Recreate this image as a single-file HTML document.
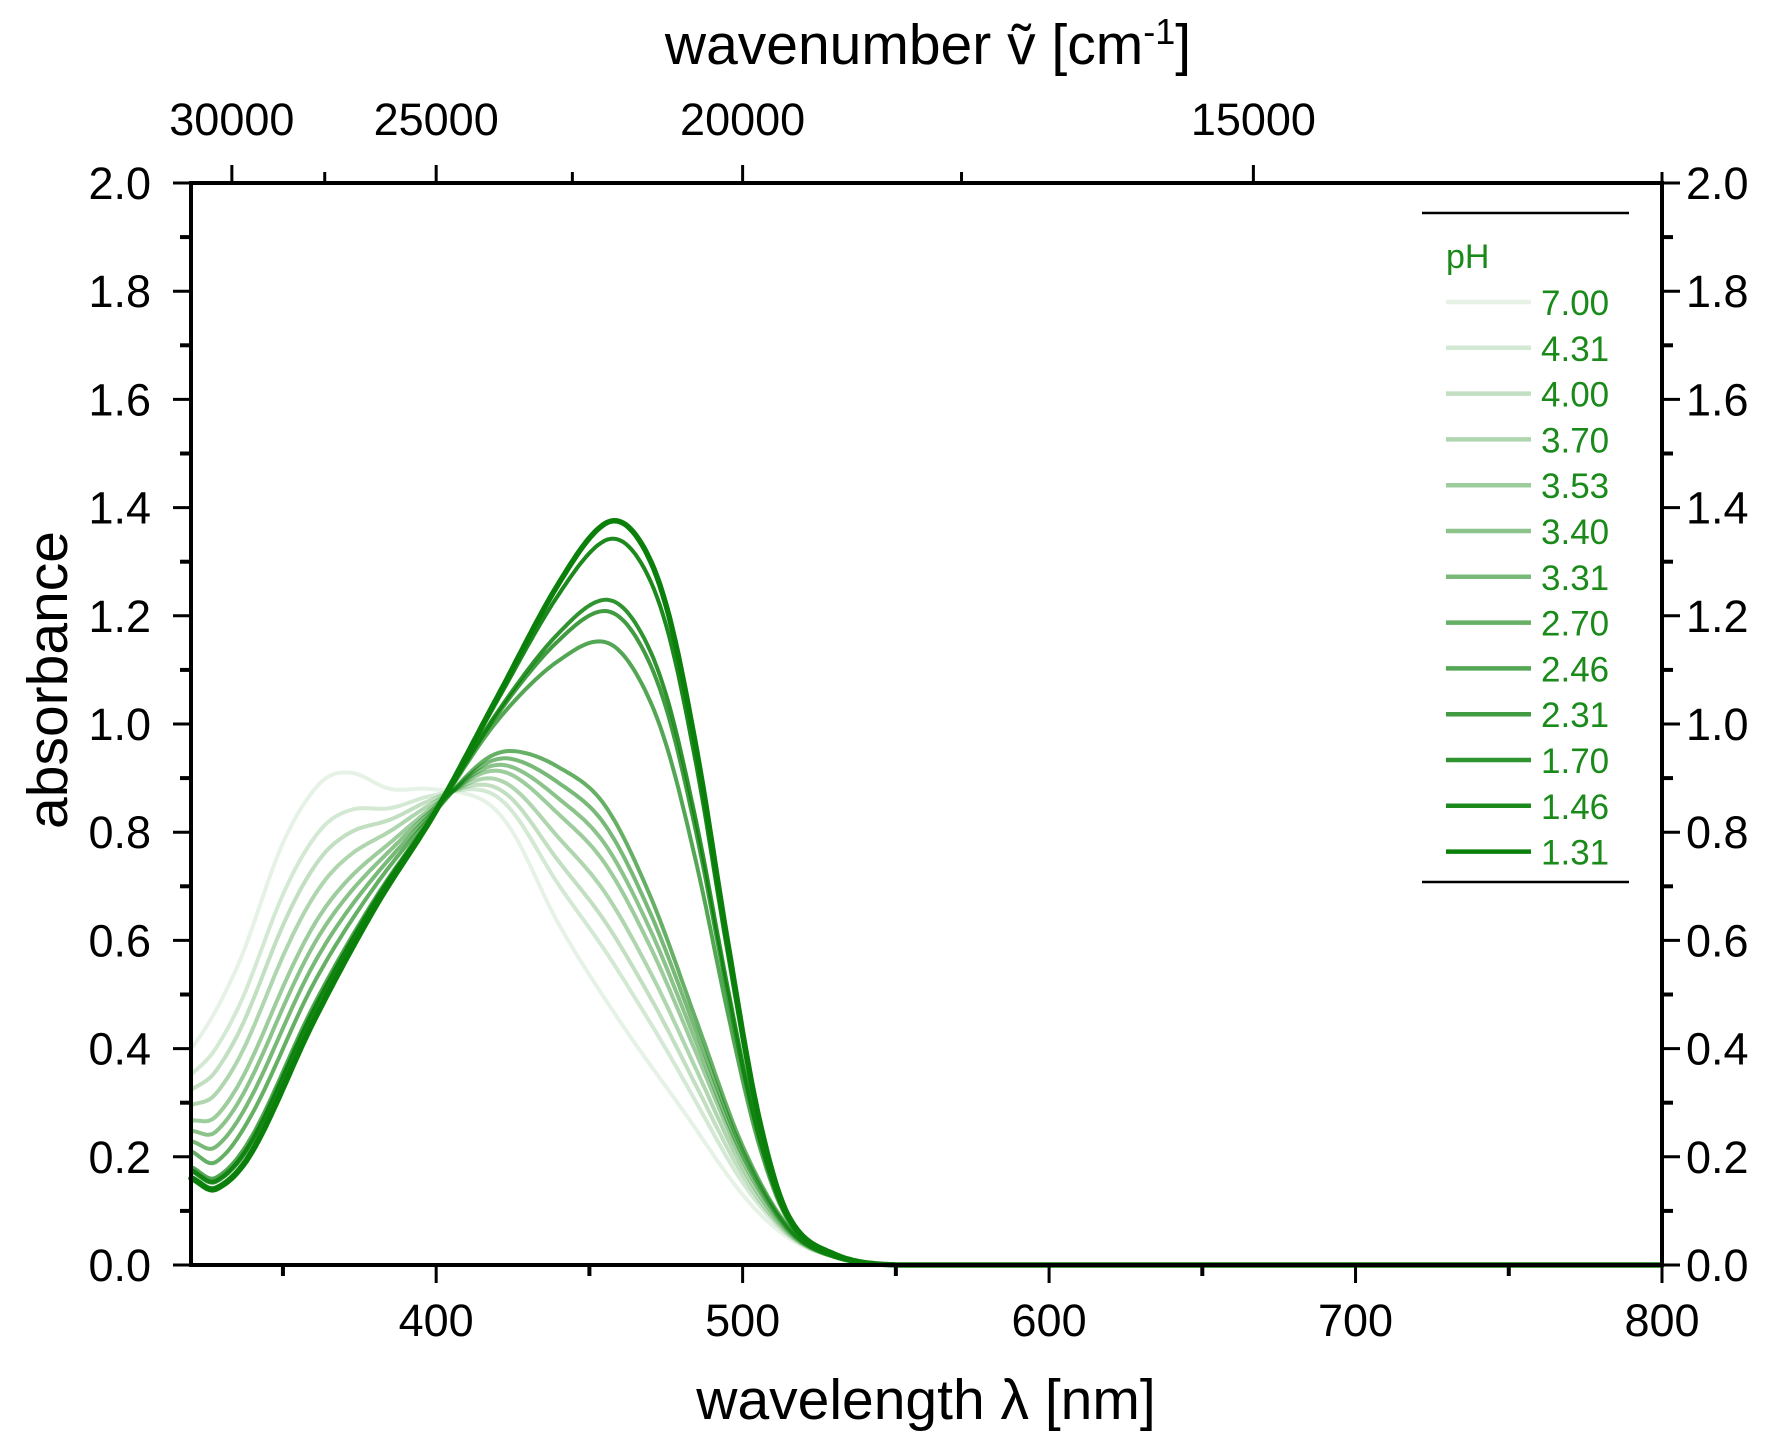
<!DOCTYPE html>
<html><head><meta charset="utf-8"><style>
html,body{margin:0;padding:0;background:#fff}
svg{display:block}
text{font-family:"Liberation Sans",sans-serif}
</style></head><body>
<svg id="s" width="1788" height="1442" viewBox="0 0 1788 1442" xmlns="http://www.w3.org/2000/svg">
<g id="curves" fill="none" stroke-linejoin="round" stroke-linecap="round"></g>
<g id="axes" stroke="#000" fill="none"></g>
<g id="labels" font-size="45" fill="#000"></g>
<text x="48" y="680" font-size="57" text-anchor="middle" transform="rotate(-90 48 680)" dominant-baseline="central">absorbance</text>
<text x="926" y="1419" font-size="57" text-anchor="middle">wavelength λ [nm]</text>
<text x="928" y="64" font-size="57" text-anchor="middle">wavenumber ṽ [cm<tspan font-size="36" dy="-20">-1</tspan><tspan dy="20">]</tspan></text>
<line x1="1422" y1="213" x2="1629" y2="213" stroke="#000" stroke-width="2.5"/>
<line x1="1422" y1="882" x2="1629" y2="882" stroke="#000" stroke-width="2.5"/>
<text x="1446" y="268" font-size="34" fill="#1a8a1a">pH</text>
<g id="legend"></g>
</svg>
<script>
var NS="http://www.w3.org/2000/svg";
function X(nm){return 191+(nm-320)*(1471/480);}
function Y(v){return 1265-541*v;}
function el(p,t,a,txt){var e=document.createElementNS(NS,t);for(var k in a)e.setAttribute(k,a[k]);if(txt!==undefined)e.textContent=txt;p.appendChild(e);return e;}
var A=[[311,.38],[320,.40],[335,.55],[350,.78],[362,.89],[372,.91],[385,.88],[398,.88],[415,.86],[425,.80],[440,.63],[460,.45],[480,.29],[500,.13],[515,.05],[530,.015],[550,0],[600,0],[800,0]];
var C=[[311,.22],[320,.21],[328,.19],[340,.28],[360,.52],[380,.70],[400,.84],[415,.93],[425,.95],[440,.92],[455,.85],[470,.68],[485,.45],[500,.22],[515,.07],[530,.015],[550,0],[600,0],[800,0]];
var B=[[311,.17],[320,.16],[328,.14],[340,.21],[360,.45],[380,.66],[400,.84],[420,1.05],[440,1.26],[455,1.37],[465,1.35],[475,1.22],[485,.95],[495,.6],[505,.28],[515,.09],[530,.02],[550,0],[600,0],[800,0]];
function interp(P,x){
  for(var i=0;i<P.length-1;i++){
    if(x<=P[i+1][0]){
      var p0=P[Math.max(i-1,0)],p1=P[i],p2=P[i+1],p3=P[Math.min(i+2,P.length-1)];
      var h=p2[0]-p1[0],t=(x-p1[0])/h;
      var m1=(p2[1]-p0[1])/(p2[0]-p0[0]||1)*h, m2=(p3[1]-p1[1])/(p3[0]-p1[0]||1)*h;
      var t2=t*t,t3=t2*t;
      return (2*t3-3*t2+1)*p1[1]+(t3-2*t2+t)*m1+(-2*t3+3*t2)*p2[1]+(t3-t2)*m2;
    }
  }
  return P[P.length-1][1];
}
var specs=[["7.00","A",0],["4.31","A",.25],["4.00","A",.4],["3.70","A",.55],["3.53","A",.7],["3.40","A",.8],["3.31","A",.9],["2.70","B",0],["2.46","B",.58],["2.31","B",.69],["1.70","B",.73],["1.46","B",.94],["1.31","B",1]];
var g=document.getElementById("curves"),lg=document.getElementById("legend");
specs.forEach(function(s,i){
  var op=0.1+0.9*i/12;
  var d="";
  for(var x=320;x<=800;x+=1){
    var v;
    if(s[1]=="A") v=(1-s[2])*interp(A,x)+s[2]*interp(C,x);
    else v=(1-s[2])*interp(C,x)+s[2]*interp(B,x);
    if(v<0)v=0;
    d+=(x==320?"M":"L")+X(x).toFixed(1)+" "+Y(v).toFixed(1);
  }
  el(g,"path",{d:d,stroke:"#0a800a","stroke-opacity":op,"stroke-width":(i==12?5.5:4)});
  var yy=302+45.8*i;
  el(lg,"line",{x1:1446,y1:yy,x2:1531,y2:yy,stroke:"#0a800a","stroke-opacity":op,"stroke-width":4.5});
  el(lg,"text",{x:1541,y:yy+13,"font-size":35,fill:"#1a8a1a"},s[0]);
});
var ax=document.getElementById("axes"),lb=document.getElementById("labels");
el(ax,"rect",{x:191,y:183,width:1471,height:1082,"stroke-width":4});
for(var k=0;k<=20;k++){
  var y=Y(k/10),maj=k%2==0,L=maj?18:11;
  el(ax,"line",{x1:191,y1:y,x2:191-L,y2:y,"stroke-width":maj?3:4});
  el(ax,"line",{x1:1662,y1:y,x2:1662+L,y2:y,"stroke-width":maj?3:4});
  if(maj){
    el(lb,"text",{x:151,y:y+16,"text-anchor":"end"},(k/10).toFixed(1));
    el(lb,"text",{x:1686,y:y+16},(k/10).toFixed(1));
  }
}
for(var nm=350;nm<=800;nm+=50){
  var x=X(nm),maj=nm%100==0,L=maj?18:11;
  el(ax,"line",{x1:x,y1:1265,x2:x,y2:1265+L,"stroke-width":maj?3:4});
  if(maj) el(lb,"text",{x:x,y:1336,"text-anchor":"middle"},nm);
}
[30000,27500,25000,22500,20000,17500,15000,12500].forEach(function(w){
  var x=X(1e7/w),maj=w%5000==0,L=maj?18:11;
  el(ax,"line",{x1:x,y1:183,x2:x,y2:183-L,"stroke-width":3});
  if(maj) el(lb,"text",{x:x,y:135,"text-anchor":"middle"},w);
});
</script>
</body></html>
